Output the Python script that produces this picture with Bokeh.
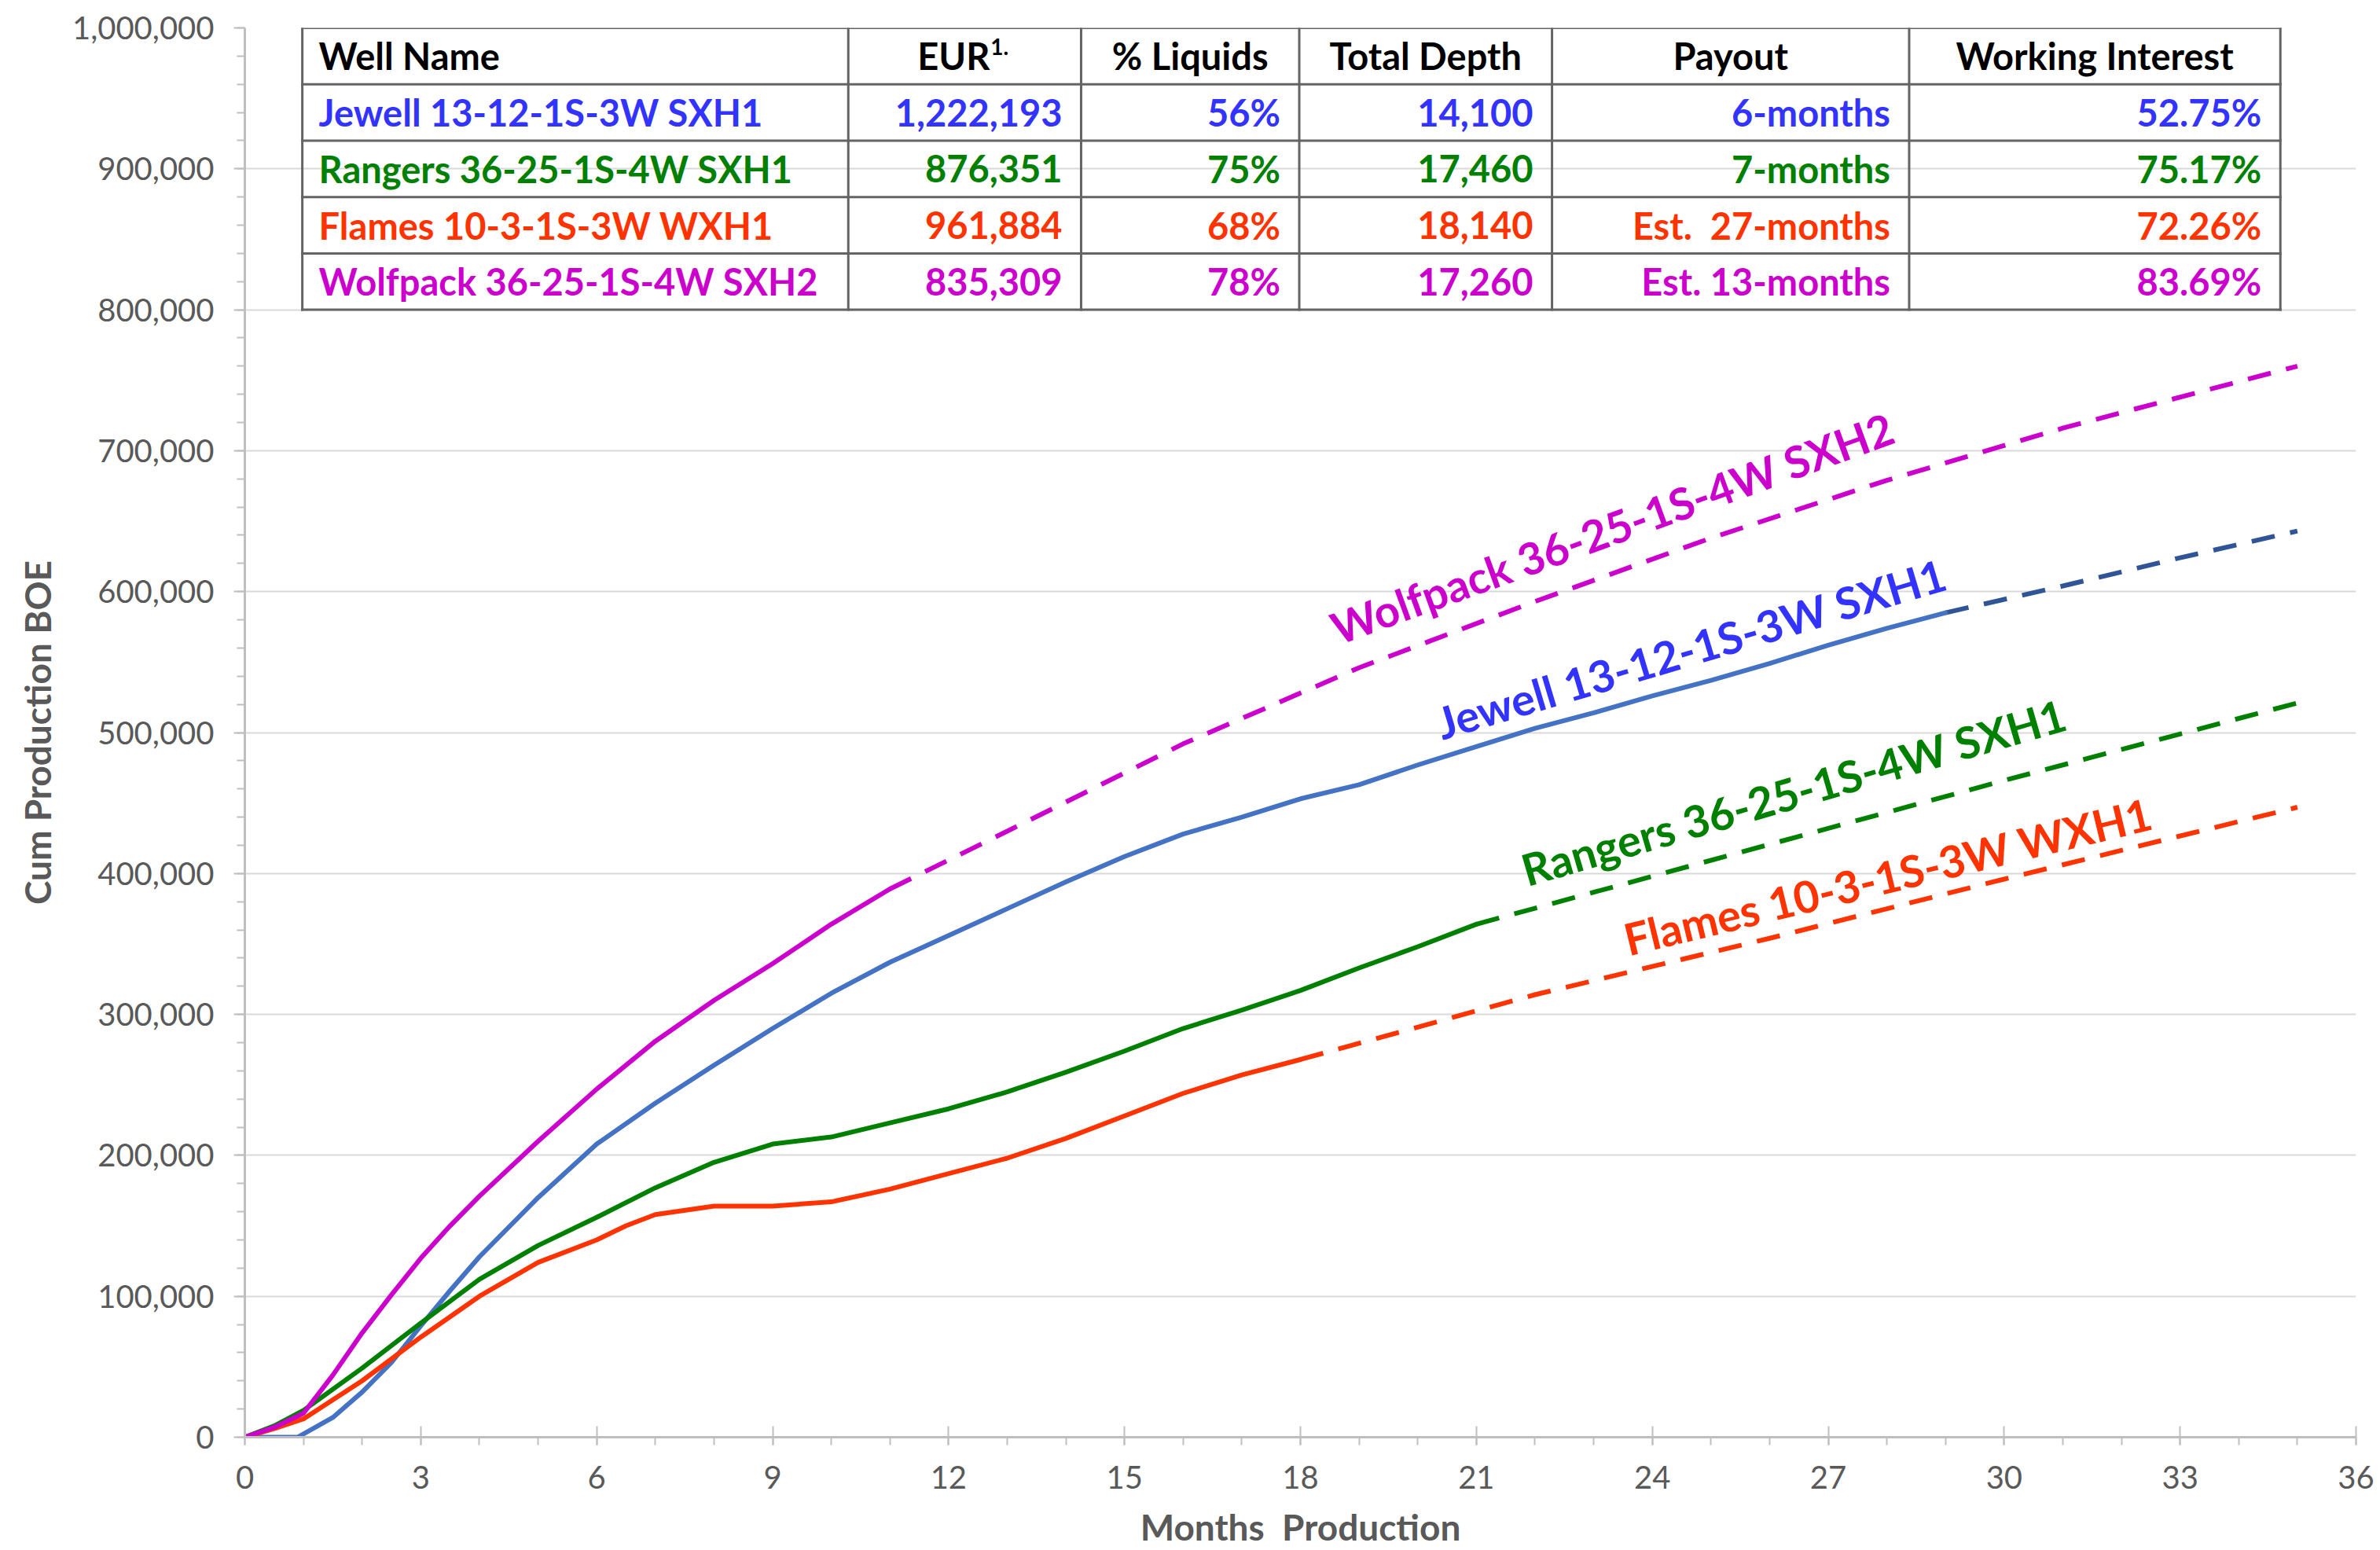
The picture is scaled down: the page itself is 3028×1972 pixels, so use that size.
from bokeh.plotting import figure
from bokeh.models import Range1d, FixedTicker, NumeralTickFormatter
from bokeh.core.properties import value
from bokeh.embed import file_html
from bokeh.resources import INLINE
import math

# ---------------- data ----------------
jewell_months = [0, 0.9, 1.5, 2, 2.5, 3, 3.5, 4, 5, 6, 7, 8, 9, 10, 11, 12, 13, 14, 15, 16, 17, 18, 19, 20, 21, 22, 23, 24, 25, 26, 27, 28, 29]
jewell_cum = [0, 0, 14000, 32000, 53000, 79000, 104000, 128000, 170000, 208000, 237000, 264000, 290000, 315000, 337000, 356000, 375000, 394000, 412000, 428000, 440000, 453000, 463000, 477000, 490000, 503000, 514000, 526000, 537000, 549000, 562000, 574000, 585000]
jewell_fc_months = [29, 31, 33, 35]
jewell_fc_cum = [585000, 604000, 624000, 643000]

rangers_months = [0, 0.5, 1, 2, 3, 4, 5, 6, 7, 8, 9, 10, 11, 12, 13, 14, 15, 16, 17, 18, 19, 20, 21]
rangers_cum = [0, 8000, 19000, 49000, 81000, 112000, 136000, 156000, 177000, 195000, 208000, 213000, 223000, 233000, 245000, 259000, 274000, 290000, 303000, 317000, 333000, 348000, 364000]
rangers_fc_months = [21, 24, 27, 30, 33, 35]
rangers_fc_cum = [364000, 398000, 432000, 466000, 499000, 521000]

flames_months = [0, 0.5, 1, 2, 3, 4, 5, 6, 6.5, 7, 8, 9, 10, 11, 12, 13, 14, 15, 16, 17, 18]
flames_cum = [0, 6000, 13000, 40000, 71000, 100000, 124000, 140000, 150000, 158000, 164000, 164000, 167000, 176000, 187000, 198000, 212000, 228000, 244000, 257000, 268000]
flames_fc_months = [18, 22, 26, 30, 35]
flames_fc_cum = [268000, 314000, 354000, 396000, 447000]

wolfpack_months = [0, 0.5, 1, 1.5, 2, 2.5, 3, 3.5, 4, 5, 6, 7, 8, 9, 10, 11]
wolfpack_cum = [0, 7000, 17000, 44000, 74000, 101000, 127000, 150000, 171000, 210000, 247000, 281000, 310000, 336000, 364000, 389000]
wolfpack_fc_months = [11, 13, 16, 19, 22, 25, 28, 31, 35]
wolfpack_fc_cum = [389000, 430000, 492000, 546000, 593000, 638000, 679000, 716000, 760000]

well_names = ["Jewell 13-12-1S-3W SXH1", "Rangers 36-25-1S-4W SXH1",
              "Flames 10-3-1S-3W WXH1", "Wolfpack 36-25-1S-4W SXH2"]
eur = [1222193, 876351, 961884, 835309]
liquids_pct = [56, 75, 68, 78]
total_depth = [14100, 17460, 18140, 17260]
payout = ["6-months", "7-months", "Est.\u00a0 27-months", "Est. 13-months"]
working_interest = [52.75, 75.17, 72.26, 83.69]
headers = ["Well Name", "EUR", "% Liquids", "Total Depth", "Payout", "Working Interest"]

x_ticks = list(range(0, 37, 3))
x_minor = list(range(0, 37))
y_ticks = list(range(0, 1_000_001, 100_000))
y_minor = list(range(0, 1_000_001, 20_000))

# ---------------- styles ----------------
text_colors = ["#3333FF", "#008000", "#FF3300", "#CC00CC"]
line_colors = ["#4472C4", "#008000", "#FF3300", "#CC00CC"]
fc_colors = ["#2F5597", "#008000", "#FF3300", "#CC00CC"]
FONT = "Lato"
GREY = "#595959"

p = figure(width=3028, height=1972, output_backend="svg", toolbar_location=None,
           x_range=Range1d(0, 36), y_range=Range1d(0, 1_000_000),
           min_border_left=311, min_border_right=31, min_border_top=35, min_border_bottom=143,
           x_axis_label="Months\u00a0 Production", y_axis_label="Cum Production BOE")
p.outline_line_color = None
p.background_fill_color = "white"
p.border_fill_color = "white"
p.xgrid.visible = False
p.ygrid.grid_line_color = "#D9D9D9"
p.ygrid.grid_line_width = 2

p.xaxis.ticker = FixedTicker(ticks=x_ticks, minor_ticks=x_minor)
p.yaxis.ticker = FixedTicker(ticks=y_ticks, minor_ticks=y_minor)
p.yaxis.formatter = NumeralTickFormatter(format="0,0")

for ax in (p.xaxis[0], p.yaxis[0]):
    ax.axis_line_color = "#BFBFBF"
    ax.axis_line_width = 3
    ax.major_tick_line_color = "#BFBFBF"
    ax.major_tick_line_width = 2
    ax.minor_tick_line_color = "#BFBFBF"
    ax.minor_tick_line_width = 2
    ax.major_label_text_font = FONT
    ax.major_label_text_font_size = "40px"
    ax.major_label_text_color = GREY
    ax.axis_label_text_font = FONT
    ax.axis_label_text_font_style = "bold"
    ax.axis_label_text_font_size = "46px"
    ax.axis_label_text_color = GREY

p.xaxis.major_tick_in = 14
p.xaxis.major_tick_out = 10
p.xaxis.minor_tick_in = 0
p.xaxis.minor_tick_out = 10
p.xaxis.major_label_standoff = 26
p.xaxis.axis_label_standoff = 18
p.xaxis.axis_label_text_line_height = 1.0
p.xaxis.major_label_text_line_height = 1.0

p.yaxis.major_tick_in = 0
p.yaxis.major_tick_out = 14
p.yaxis.minor_tick_in = 0
p.yaxis.minor_tick_out = 10
p.yaxis.major_label_standoff = 25
p.yaxis.axis_label_standoff = 14

# ---------------- lines ----------------
actual = [(jewell_months, jewell_cum), (rangers_months, rangers_cum),
          (flames_months, flames_cum), (wolfpack_months, wolfpack_cum)]
forecast = [(jewell_fc_months, jewell_fc_cum), (rangers_fc_months, rangers_fc_cum),
            (flames_fc_months, flames_fc_cum), (wolfpack_fc_months, wolfpack_fc_cum)]
for (fx, fy), c in zip(forecast, fc_colors):
    p.line(fx, fy, line_color=c, line_width=6, line_dash="30 20")
for (ax_, ay_), c in zip(actual, line_colors):
    p.line(ax_, ay_, line_color=c, line_width=6, line_join="round", line_cap="round")

# ---------------- on-chart labels ----------------
label_x = [20.34, 21.79, 23.53, 18.55]
label_y = [506000, 402000, 353000, 573000]
label_angle = [16.6, 16.2, 13.6, 20.0]
for i in range(4):
    p.text(x=[label_x[i]], y=[label_y[i]], text=[well_names[i]],
           angle=math.radians(label_angle[i]), text_font=value(FONT), text_font_style="bold",
           text_font_size="56px", text_color=text_colors[i],
           text_align="left", text_baseline="alphabetic")

# ---------------- table ----------------
col_edges = [0.98, 10.29, 14.26, 17.98, 22.29, 28.38, 34.71]
row_edges = [1_000_000, 960_000, 920_000, 880_000, 840_000, 800_000]
border = "#646464"
p.segment(x0=[col_edges[0]] * len(row_edges), x1=[col_edges[-1]] * len(row_edges),
          y0=row_edges, y1=row_edges, line_color=border, line_width=3, line_cap="square")
p.segment(x0=col_edges, x1=col_edges, y0=[row_edges[-1]] * len(col_edges),
          y1=[row_edges[0]] * len(col_edges), line_color=border, line_width=3, line_cap="square")

TS = "47px"
header_y = (row_edges[0] + row_edges[1]) / 2
row_y = [(row_edges[i + 1] + row_edges[i + 2]) / 2 for i in range(4)]
centers = [(col_edges[i] + col_edges[i + 1]) / 2 for i in range(6)]

def tbl_text(xs, ys, texts, colors, align, xoff, yoff=0, size=TS):
    p.text(x=xs, y=ys, text=texts, text_color=colors, text_font=value(FONT),
           text_font_style="bold", text_font_size=size, text_align=align,
           text_baseline="middle", x_offset=xoff, y_offset=yoff)

# header
tbl_text([col_edges[0]], [header_y], [headers[0]], ["black"], "left", 21)
tbl_text([centers[1]], [header_y], [headers[1]], ["black"], "right", 32)
tbl_text([centers[1]], [header_y], ["1."], ["black"], "left", 33, -12, "28px")
for k in range(2, 6):
    tbl_text([centers[k]], [header_y], [headers[k]], ["black"], "center", 0)

# rows
tbl_text([col_edges[0]] * 4, row_y, well_names, text_colors, "left", 21)
cols = [
    [f"{v:,}" for v in eur],
    [f"{v}%" for v in liquids_pct],
    [f"{v:,}" for v in total_depth],
    payout,
    [f"{v:.2f}%" for v in working_interest],
]
for k, vals in enumerate(cols):
    tbl_text([col_edges[k + 2]] * 4, row_y, vals, text_colors, "right", -24)

open("out.html", "w").write(file_html(p, INLINE))
